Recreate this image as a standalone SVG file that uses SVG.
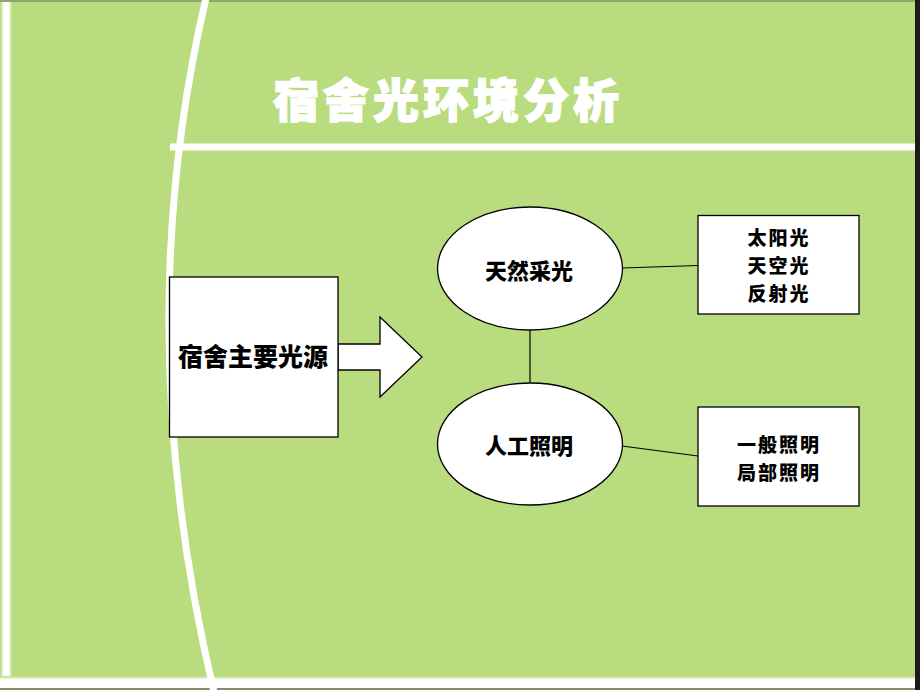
<svg xmlns="http://www.w3.org/2000/svg" width="920" height="690" viewBox="0 0 920 690">
<defs>
<style>
.t{font-family:"Noto Sans CJK SC","Noto Sans CJK JP",sans-serif;font-weight:900;fill:#000;text-anchor:middle}
.s{font-size:19px;letter-spacing:2px}
.shape{fill:#fff;stroke:#000;stroke-width:1.3}
.conn{stroke:#000;stroke-width:1.2;fill:none}
</style>
<linearGradient id="lg" x1="0" x2="1" y1="0" y2="0">
<stop offset="0" stop-color="#cfe3b0"/>
<stop offset="0.3" stop-color="#ffffff"/>
<stop offset="0.7" stop-color="#ffffff"/>
<stop offset="1" stop-color="#b9dc7f"/>
</linearGradient>
<linearGradient id="bg" x1="0" x2="0" y1="0" y2="1">
<stop offset="0" stop-color="#b9dc7f"/>
<stop offset="0.3" stop-color="#ffffff"/>
<stop offset="1" stop-color="#ffffff"/>
</linearGradient>
</defs>
<rect x="0" y="0" width="920" height="690" fill="#b9dc7f"/>
<rect x="0" y="0" width="920" height="2" fill="#8fa86c"/>
<rect x="1" y="2" width="11" height="686" fill="url(#lg)"/>
<rect x="0" y="676" width="916" height="12" fill="url(#bg)"/>
<rect x="0" y="688" width="920" height="2" fill="#7f8f70"/>
<rect x="915" y="0" width="5" height="690" fill="#1e1a18"/>
<path d="M206,-2 Q128,330 214,692" stroke="#fff" stroke-width="7" fill="none"/>
<rect x="170" y="143.5" width="745" height="7" fill="#fff"/>
<text x="448" y="117" font-family="'Noto Sans CJK SC',sans-serif" font-weight="900" font-size="46" fill="#fff" stroke="#fff" stroke-width="1.5" text-anchor="middle" letter-spacing="4">宿舍光环境分析</text>
<g id="connectors">
<path class="shape" d="M338,344 H380 V317 L422,357 L380,397 V370 H338 Z"/>
<line class="conn" x1="530" y1="330" x2="530" y2="383"/>
<line class="conn" x1="622" y1="268" x2="698" y2="265.5"/>
<line class="conn" x1="622" y1="446" x2="698" y2="456"/>
</g>
<g id="source">
<rect class="shape" x="169.5" y="277" width="168.5" height="160"/>
<text class="t" x="253" y="366" font-size="25">宿舍主要光源</text>
</g>
<g id="natural">
<ellipse class="shape" cx="530" cy="268.5" rx="92.5" ry="61.5"/>
<text class="t" x="529" y="279" font-size="22">天然采光</text>
</g>
<g id="artificial">
<ellipse class="shape" cx="530" cy="444" rx="92.5" ry="61"/>
<text class="t" x="529" y="454" font-size="22">人工照明</text>
</g>
<g id="natural-types">
<rect class="shape" x="698" y="215.5" width="161" height="98.5"/>
<text class="t s" x="779" y="245">太阳光</text>
<text class="t s" x="779" y="273">天空光</text>
<text class="t s" x="779" y="301">反射光</text>
</g>
<g id="artificial-types">
<rect class="shape" x="698" y="407" width="161" height="99"/>
<text class="t s" x="779" y="452">一般照明</text>
<text class="t s" x="779" y="480">局部照明</text>
</g>
</svg>
